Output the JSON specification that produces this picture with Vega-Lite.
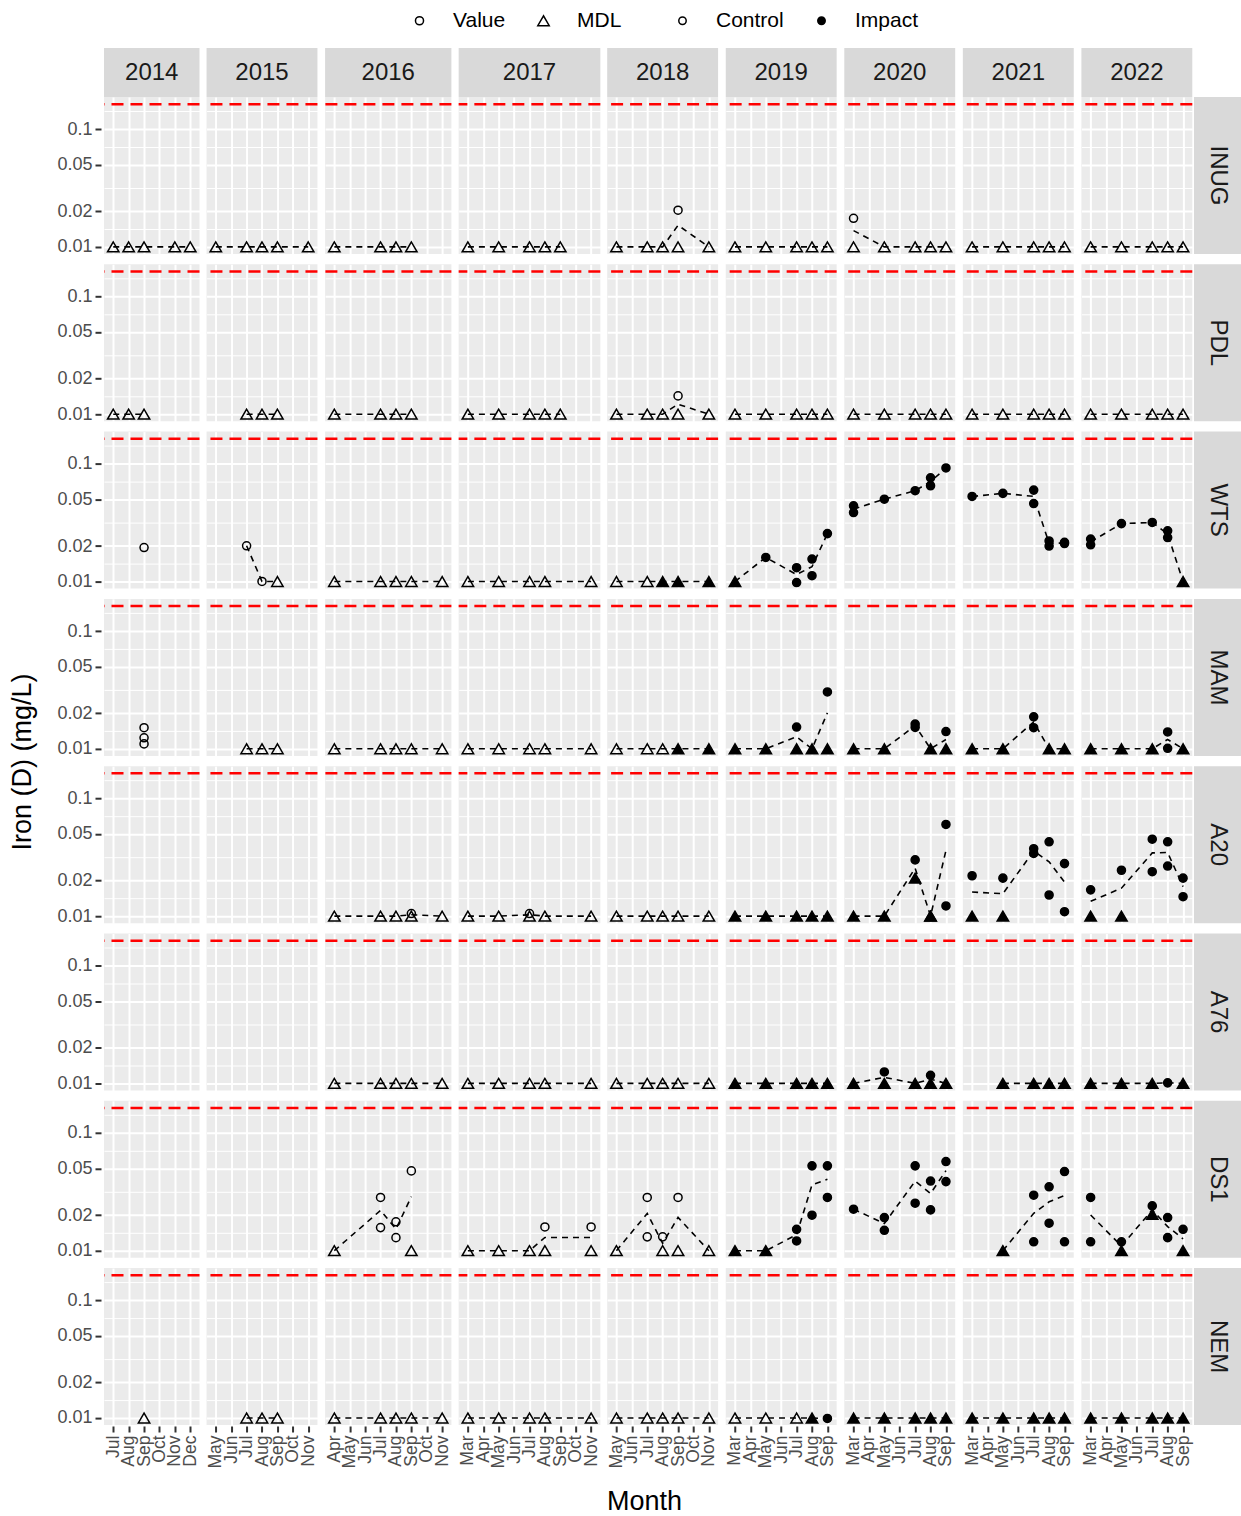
{
"$schema":"https://vega.github.io/schema/vega-lite/v6.json",
"padding":{"left":8,"top":10,"right":0,"bottom":0},
"config":{
 "font":"Liberation Sans",
 "view":{"fill":"#EBEBEB","stroke":null},
 "scale":{"pointPadding":0.6},
 "axis":{"domain":false,"grid":true,"gridColor":"#FFFFFF","gridWidth":2,"gridOpacity":1,"tickColor":"#333333","tickWidth":2,"tickSize":6,"labelColor":"#4D4D4D","labelPadding":3,"minExtent":0},
 "axisX":{"labelAngle":270,"labelFontSize":17.5,"labelOverlap":false},
 "axisLeft":{"labels":false,"ticks":false},
 "axisRight":{"labels":false,"ticks":false,"gridWidth":1},
 "legend":{"labelFontSize":21,"labelColor":"#000000","symbolStrokeColor":"#000000","symbolStrokeWidth":1.5,"symbolSize":55,"labelOffset":23,"columnPadding":27,"direction":"horizontal"},
 "point":{"filled":true,"stroke":"#000000","strokeWidth":1.5,"opacity":1},
 "line":{"color":"#000000","strokeDash":[6,5],"strokeWidth":1.6},
 "rule":{"color":"#FF0000","strokeDash":[12,7],"strokeWidth":2.5}
},
"datasets":{
"st":[{"s":"INUG"},{"s":"PDL"},{"s":"WTS"},{"s":"MAM"},{"s":"A20"},{"s":"A76"},{"s":"DS1"},{"s":"NEM"}],
"d":[
{"s":"INUG","yr":2014,"m":"Jul","v":0.01,"k":"MDL","g":"Control"},
{"s":"INUG","yr":2014,"m":"Aug","v":0.01,"k":"MDL","g":"Control"},
{"s":"INUG","yr":2014,"m":"Sep","v":0.01,"k":"MDL","g":"Control"},
{"s":"INUG","yr":2014,"m":"Nov","v":0.01,"k":"MDL","g":"Control"},
{"s":"INUG","yr":2014,"m":"Dec","v":0.01,"k":"MDL","g":"Control"},
{"s":"INUG","yr":2015,"m":"May","v":0.01,"k":"MDL","g":"Control"},
{"s":"INUG","yr":2015,"m":"Jul","v":0.01,"k":"MDL","g":"Control"},
{"s":"INUG","yr":2015,"m":"Aug","v":0.01,"k":"MDL","g":"Control"},
{"s":"INUG","yr":2015,"m":"Sep","v":0.01,"k":"MDL","g":"Control"},
{"s":"INUG","yr":2015,"m":"Nov","v":0.01,"k":"MDL","g":"Control"},
{"s":"INUG","yr":2016,"m":"Apr","v":0.01,"k":"MDL","g":"Control"},
{"s":"INUG","yr":2016,"m":"Jul","v":0.01,"k":"MDL","g":"Control"},
{"s":"INUG","yr":2016,"m":"Aug","v":0.01,"k":"MDL","g":"Control"},
{"s":"INUG","yr":2016,"m":"Sep","v":0.01,"k":"MDL","g":"Control"},
{"s":"INUG","yr":2017,"m":"Mar","v":0.01,"k":"MDL","g":"Control"},
{"s":"INUG","yr":2017,"m":"May","v":0.01,"k":"MDL","g":"Control"},
{"s":"INUG","yr":2017,"m":"Jul","v":0.01,"k":"MDL","g":"Control"},
{"s":"INUG","yr":2017,"m":"Aug","v":0.01,"k":"MDL","g":"Control"},
{"s":"INUG","yr":2017,"m":"Sep","v":0.01,"k":"MDL","g":"Control"},
{"s":"INUG","yr":2018,"m":"May","v":0.01,"k":"MDL","g":"Control"},
{"s":"INUG","yr":2018,"m":"Jul","v":0.01,"k":"MDL","g":"Control"},
{"s":"INUG","yr":2018,"m":"Aug","v":0.01,"k":"MDL","g":"Control"},
{"s":"INUG","yr":2018,"m":"Sep","v":0.01,"k":"MDL","g":"Control"},
{"s":"INUG","yr":2018,"m":"Sep","v":0.0205,"k":"Value","g":"Control"},
{"s":"INUG","yr":2018,"m":"Nov","v":0.01,"k":"MDL","g":"Control"},
{"s":"INUG","yr":2019,"m":"Mar","v":0.01,"k":"MDL","g":"Control"},
{"s":"INUG","yr":2019,"m":"May","v":0.01,"k":"MDL","g":"Control"},
{"s":"INUG","yr":2019,"m":"Jul","v":0.01,"k":"MDL","g":"Control"},
{"s":"INUG","yr":2019,"m":"Aug","v":0.01,"k":"MDL","g":"Control"},
{"s":"INUG","yr":2019,"m":"Sep","v":0.01,"k":"MDL","g":"Control"},
{"s":"INUG","yr":2020,"m":"Mar","v":0.01,"k":"MDL","g":"Control"},
{"s":"INUG","yr":2020,"m":"Mar","v":0.0175,"k":"Value","g":"Control"},
{"s":"INUG","yr":2020,"m":"May","v":0.01,"k":"MDL","g":"Control"},
{"s":"INUG","yr":2020,"m":"Jul","v":0.01,"k":"MDL","g":"Control"},
{"s":"INUG","yr":2020,"m":"Aug","v":0.01,"k":"MDL","g":"Control"},
{"s":"INUG","yr":2020,"m":"Sep","v":0.01,"k":"MDL","g":"Control"},
{"s":"INUG","yr":2021,"m":"Mar","v":0.01,"k":"MDL","g":"Control"},
{"s":"INUG","yr":2021,"m":"May","v":0.01,"k":"MDL","g":"Control"},
{"s":"INUG","yr":2021,"m":"Jul","v":0.01,"k":"MDL","g":"Control"},
{"s":"INUG","yr":2021,"m":"Aug","v":0.01,"k":"MDL","g":"Control"},
{"s":"INUG","yr":2021,"m":"Sep","v":0.01,"k":"MDL","g":"Control"},
{"s":"INUG","yr":2022,"m":"Mar","v":0.01,"k":"MDL","g":"Control"},
{"s":"INUG","yr":2022,"m":"May","v":0.01,"k":"MDL","g":"Control"},
{"s":"INUG","yr":2022,"m":"Jul","v":0.01,"k":"MDL","g":"Control"},
{"s":"INUG","yr":2022,"m":"Aug","v":0.01,"k":"MDL","g":"Control"},
{"s":"INUG","yr":2022,"m":"Sep","v":0.01,"k":"MDL","g":"Control"},
{"s":"PDL","yr":2014,"m":"Jul","v":0.01,"k":"MDL","g":"Control"},
{"s":"PDL","yr":2014,"m":"Aug","v":0.01,"k":"MDL","g":"Control"},
{"s":"PDL","yr":2014,"m":"Sep","v":0.01,"k":"MDL","g":"Control"},
{"s":"PDL","yr":2015,"m":"Jul","v":0.01,"k":"MDL","g":"Control"},
{"s":"PDL","yr":2015,"m":"Aug","v":0.01,"k":"MDL","g":"Control"},
{"s":"PDL","yr":2015,"m":"Sep","v":0.01,"k":"MDL","g":"Control"},
{"s":"PDL","yr":2016,"m":"Apr","v":0.01,"k":"MDL","g":"Control"},
{"s":"PDL","yr":2016,"m":"Jul","v":0.01,"k":"MDL","g":"Control"},
{"s":"PDL","yr":2016,"m":"Aug","v":0.01,"k":"MDL","g":"Control"},
{"s":"PDL","yr":2016,"m":"Sep","v":0.01,"k":"MDL","g":"Control"},
{"s":"PDL","yr":2017,"m":"Mar","v":0.01,"k":"MDL","g":"Control"},
{"s":"PDL","yr":2017,"m":"May","v":0.01,"k":"MDL","g":"Control"},
{"s":"PDL","yr":2017,"m":"Jul","v":0.01,"k":"MDL","g":"Control"},
{"s":"PDL","yr":2017,"m":"Aug","v":0.01,"k":"MDL","g":"Control"},
{"s":"PDL","yr":2017,"m":"Sep","v":0.01,"k":"MDL","g":"Control"},
{"s":"PDL","yr":2018,"m":"May","v":0.01,"k":"MDL","g":"Control"},
{"s":"PDL","yr":2018,"m":"Jul","v":0.01,"k":"MDL","g":"Control"},
{"s":"PDL","yr":2018,"m":"Aug","v":0.01,"k":"MDL","g":"Control"},
{"s":"PDL","yr":2018,"m":"Sep","v":0.01,"k":"MDL","g":"Control"},
{"s":"PDL","yr":2018,"m":"Sep","v":0.0143,"k":"Value","g":"Control"},
{"s":"PDL","yr":2018,"m":"Nov","v":0.01,"k":"MDL","g":"Control"},
{"s":"PDL","yr":2019,"m":"Mar","v":0.01,"k":"MDL","g":"Control"},
{"s":"PDL","yr":2019,"m":"May","v":0.01,"k":"MDL","g":"Control"},
{"s":"PDL","yr":2019,"m":"Jul","v":0.01,"k":"MDL","g":"Control"},
{"s":"PDL","yr":2019,"m":"Aug","v":0.01,"k":"MDL","g":"Control"},
{"s":"PDL","yr":2019,"m":"Sep","v":0.01,"k":"MDL","g":"Control"},
{"s":"PDL","yr":2020,"m":"Mar","v":0.01,"k":"MDL","g":"Control"},
{"s":"PDL","yr":2020,"m":"May","v":0.01,"k":"MDL","g":"Control"},
{"s":"PDL","yr":2020,"m":"Jul","v":0.01,"k":"MDL","g":"Control"},
{"s":"PDL","yr":2020,"m":"Aug","v":0.01,"k":"MDL","g":"Control"},
{"s":"PDL","yr":2020,"m":"Sep","v":0.01,"k":"MDL","g":"Control"},
{"s":"PDL","yr":2021,"m":"Mar","v":0.01,"k":"MDL","g":"Control"},
{"s":"PDL","yr":2021,"m":"May","v":0.01,"k":"MDL","g":"Control"},
{"s":"PDL","yr":2021,"m":"Jul","v":0.01,"k":"MDL","g":"Control"},
{"s":"PDL","yr":2021,"m":"Aug","v":0.01,"k":"MDL","g":"Control"},
{"s":"PDL","yr":2021,"m":"Sep","v":0.01,"k":"MDL","g":"Control"},
{"s":"PDL","yr":2022,"m":"Mar","v":0.01,"k":"MDL","g":"Control"},
{"s":"PDL","yr":2022,"m":"May","v":0.01,"k":"MDL","g":"Control"},
{"s":"PDL","yr":2022,"m":"Jul","v":0.01,"k":"MDL","g":"Control"},
{"s":"PDL","yr":2022,"m":"Aug","v":0.01,"k":"MDL","g":"Control"},
{"s":"PDL","yr":2022,"m":"Sep","v":0.01,"k":"MDL","g":"Control"},
{"s":"WTS","yr":2014,"m":"Sep","v":0.0194,"k":"Value","g":"Control"},
{"s":"WTS","yr":2015,"m":"Jul","v":0.0201,"k":"Value","g":"Control"},
{"s":"WTS","yr":2015,"m":"Aug","v":0.01,"k":"Value","g":"Control"},
{"s":"WTS","yr":2015,"m":"Sep","v":0.01,"k":"MDL","g":"Control"},
{"s":"WTS","yr":2016,"m":"Apr","v":0.01,"k":"MDL","g":"Control"},
{"s":"WTS","yr":2016,"m":"Jul","v":0.01,"k":"MDL","g":"Control"},
{"s":"WTS","yr":2016,"m":"Aug","v":0.01,"k":"MDL","g":"Control"},
{"s":"WTS","yr":2016,"m":"Sep","v":0.01,"k":"MDL","g":"Control"},
{"s":"WTS","yr":2016,"m":"Nov","v":0.01,"k":"MDL","g":"Control"},
{"s":"WTS","yr":2017,"m":"Mar","v":0.01,"k":"MDL","g":"Control"},
{"s":"WTS","yr":2017,"m":"May","v":0.01,"k":"MDL","g":"Control"},
{"s":"WTS","yr":2017,"m":"Jul","v":0.01,"k":"MDL","g":"Control"},
{"s":"WTS","yr":2017,"m":"Aug","v":0.01,"k":"MDL","g":"Control"},
{"s":"WTS","yr":2017,"m":"Nov","v":0.01,"k":"MDL","g":"Control"},
{"s":"WTS","yr":2018,"m":"May","v":0.01,"k":"MDL","g":"Control"},
{"s":"WTS","yr":2018,"m":"Jul","v":0.01,"k":"MDL","g":"Control"},
{"s":"WTS","yr":2018,"m":"Aug","v":0.01,"k":"MDL","g":"Impact"},
{"s":"WTS","yr":2018,"m":"Sep","v":0.01,"k":"MDL","g":"Impact"},
{"s":"WTS","yr":2018,"m":"Nov","v":0.01,"k":"MDL","g":"Impact"},
{"s":"WTS","yr":2019,"m":"Mar","v":0.01,"k":"MDL","g":"Impact"},
{"s":"WTS","yr":2019,"m":"May","v":0.016,"k":"Value","g":"Impact"},
{"s":"WTS","yr":2019,"m":"Jul","v":0.0131,"k":"Value","g":"Impact"},
{"s":"WTS","yr":2019,"m":"Jul","v":0.0098,"k":"Value","g":"Impact"},
{"s":"WTS","yr":2019,"m":"Aug","v":0.0155,"k":"Value","g":"Impact"},
{"s":"WTS","yr":2019,"m":"Aug","v":0.0112,"k":"Value","g":"Impact"},
{"s":"WTS","yr":2019,"m":"Sep","v":0.0255,"k":"Value","g":"Impact"},
{"s":"WTS","yr":2020,"m":"Mar","v":0.0439,"k":"Value","g":"Impact"},
{"s":"WTS","yr":2020,"m":"Mar","v":0.0385,"k":"Value","g":"Impact"},
{"s":"WTS","yr":2020,"m":"May","v":0.05,"k":"Value","g":"Impact"},
{"s":"WTS","yr":2020,"m":"Jul","v":0.059,"k":"Value","g":"Impact"},
{"s":"WTS","yr":2020,"m":"Aug","v":0.076,"k":"Value","g":"Impact"},
{"s":"WTS","yr":2020,"m":"Aug","v":0.065,"k":"Value","g":"Impact"},
{"s":"WTS","yr":2020,"m":"Sep","v":0.092,"k":"Value","g":"Impact"},
{"s":"WTS","yr":2021,"m":"Mar","v":0.0527,"k":"Value","g":"Impact"},
{"s":"WTS","yr":2021,"m":"May","v":0.056,"k":"Value","g":"Impact"},
{"s":"WTS","yr":2021,"m":"Jul","v":0.0597,"k":"Value","g":"Impact"},
{"s":"WTS","yr":2021,"m":"Jul","v":0.0459,"k":"Value","g":"Impact"},
{"s":"WTS","yr":2021,"m":"Aug","v":0.0221,"k":"Value","g":"Impact"},
{"s":"WTS","yr":2021,"m":"Aug","v":0.02,"k":"Value","g":"Impact"},
{"s":"WTS","yr":2021,"m":"Sep","v":0.0215,"k":"Value","g":"Impact"},
{"s":"WTS","yr":2021,"m":"Sep","v":0.021,"k":"Value","g":"Impact"},
{"s":"WTS","yr":2022,"m":"Mar","v":0.0229,"k":"Value","g":"Impact"},
{"s":"WTS","yr":2022,"m":"Mar","v":0.0205,"k":"Value","g":"Impact"},
{"s":"WTS","yr":2022,"m":"May","v":0.031,"k":"Value","g":"Impact"},
{"s":"WTS","yr":2022,"m":"Jul","v":0.0317,"k":"Value","g":"Impact"},
{"s":"WTS","yr":2022,"m":"Aug","v":0.0269,"k":"Value","g":"Impact"},
{"s":"WTS","yr":2022,"m":"Aug","v":0.0236,"k":"Value","g":"Impact"},
{"s":"WTS","yr":2022,"m":"Sep","v":0.01,"k":"MDL","g":"Impact"},
{"s":"MAM","yr":2014,"m":"Sep","v":0.0151,"k":"Value","g":"Control"},
{"s":"MAM","yr":2014,"m":"Sep","v":0.0124,"k":"Value","g":"Control"},
{"s":"MAM","yr":2014,"m":"Sep","v":0.011,"k":"Value","g":"Control"},
{"s":"MAM","yr":2015,"m":"Jul","v":0.01,"k":"MDL","g":"Control"},
{"s":"MAM","yr":2015,"m":"Aug","v":0.01,"k":"MDL","g":"Control"},
{"s":"MAM","yr":2015,"m":"Sep","v":0.01,"k":"MDL","g":"Control"},
{"s":"MAM","yr":2016,"m":"Apr","v":0.01,"k":"MDL","g":"Control"},
{"s":"MAM","yr":2016,"m":"Jul","v":0.01,"k":"MDL","g":"Control"},
{"s":"MAM","yr":2016,"m":"Aug","v":0.01,"k":"MDL","g":"Control"},
{"s":"MAM","yr":2016,"m":"Sep","v":0.01,"k":"MDL","g":"Control"},
{"s":"MAM","yr":2016,"m":"Nov","v":0.01,"k":"MDL","g":"Control"},
{"s":"MAM","yr":2017,"m":"Mar","v":0.01,"k":"MDL","g":"Control"},
{"s":"MAM","yr":2017,"m":"May","v":0.01,"k":"MDL","g":"Control"},
{"s":"MAM","yr":2017,"m":"Jul","v":0.01,"k":"MDL","g":"Control"},
{"s":"MAM","yr":2017,"m":"Aug","v":0.01,"k":"MDL","g":"Control"},
{"s":"MAM","yr":2017,"m":"Nov","v":0.01,"k":"MDL","g":"Control"},
{"s":"MAM","yr":2018,"m":"May","v":0.01,"k":"MDL","g":"Control"},
{"s":"MAM","yr":2018,"m":"Jul","v":0.01,"k":"MDL","g":"Control"},
{"s":"MAM","yr":2018,"m":"Aug","v":0.01,"k":"MDL","g":"Control"},
{"s":"MAM","yr":2018,"m":"Sep","v":0.01,"k":"MDL","g":"Impact"},
{"s":"MAM","yr":2018,"m":"Nov","v":0.01,"k":"MDL","g":"Impact"},
{"s":"MAM","yr":2019,"m":"Mar","v":0.01,"k":"MDL","g":"Impact"},
{"s":"MAM","yr":2019,"m":"May","v":0.01,"k":"MDL","g":"Impact"},
{"s":"MAM","yr":2019,"m":"Jul","v":0.01,"k":"MDL","g":"Impact"},
{"s":"MAM","yr":2019,"m":"Jul","v":0.0153,"k":"Value","g":"Impact"},
{"s":"MAM","yr":2019,"m":"Aug","v":0.01,"k":"MDL","g":"Impact"},
{"s":"MAM","yr":2019,"m":"Sep","v":0.01,"k":"MDL","g":"Impact"},
{"s":"MAM","yr":2019,"m":"Sep","v":0.0304,"k":"Value","g":"Impact"},
{"s":"MAM","yr":2020,"m":"Mar","v":0.01,"k":"MDL","g":"Impact"},
{"s":"MAM","yr":2020,"m":"May","v":0.01,"k":"MDL","g":"Impact"},
{"s":"MAM","yr":2020,"m":"Jul","v":0.0162,"k":"Value","g":"Impact"},
{"s":"MAM","yr":2020,"m":"Jul","v":0.0152,"k":"Value","g":"Impact"},
{"s":"MAM","yr":2020,"m":"Aug","v":0.01,"k":"MDL","g":"Impact"},
{"s":"MAM","yr":2020,"m":"Sep","v":0.01,"k":"MDL","g":"Impact"},
{"s":"MAM","yr":2020,"m":"Sep","v":0.014,"k":"Value","g":"Impact"},
{"s":"MAM","yr":2021,"m":"Mar","v":0.01,"k":"MDL","g":"Impact"},
{"s":"MAM","yr":2021,"m":"May","v":0.01,"k":"MDL","g":"Impact"},
{"s":"MAM","yr":2021,"m":"Jul","v":0.0187,"k":"Value","g":"Impact"},
{"s":"MAM","yr":2021,"m":"Jul","v":0.0151,"k":"Value","g":"Impact"},
{"s":"MAM","yr":2021,"m":"Aug","v":0.01,"k":"MDL","g":"Impact"},
{"s":"MAM","yr":2021,"m":"Sep","v":0.01,"k":"MDL","g":"Impact"},
{"s":"MAM","yr":2022,"m":"Mar","v":0.01,"k":"MDL","g":"Impact"},
{"s":"MAM","yr":2022,"m":"May","v":0.01,"k":"MDL","g":"Impact"},
{"s":"MAM","yr":2022,"m":"Jul","v":0.01,"k":"MDL","g":"Impact"},
{"s":"MAM","yr":2022,"m":"Aug","v":0.0139,"k":"Value","g":"Impact"},
{"s":"MAM","yr":2022,"m":"Aug","v":0.0101,"k":"Value","g":"Impact"},
{"s":"MAM","yr":2022,"m":"Sep","v":0.01,"k":"MDL","g":"Impact"},
{"s":"A20","yr":2014},
{"s":"A20","yr":2015},
{"s":"A20","yr":2016,"m":"Apr","v":0.01,"k":"MDL","g":"Control"},
{"s":"A20","yr":2016,"m":"Jul","v":0.01,"k":"MDL","g":"Control"},
{"s":"A20","yr":2016,"m":"Aug","v":0.01,"k":"MDL","g":"Control"},
{"s":"A20","yr":2016,"m":"Sep","v":0.01,"k":"MDL","g":"Control"},
{"s":"A20","yr":2016,"m":"Sep","v":0.0105,"k":"Value","g":"Control"},
{"s":"A20","yr":2016,"m":"Nov","v":0.01,"k":"MDL","g":"Control"},
{"s":"A20","yr":2017,"m":"Mar","v":0.01,"k":"MDL","g":"Control"},
{"s":"A20","yr":2017,"m":"May","v":0.01,"k":"MDL","g":"Control"},
{"s":"A20","yr":2017,"m":"Jul","v":0.01,"k":"MDL","g":"Control"},
{"s":"A20","yr":2017,"m":"Jul","v":0.0105,"k":"Value","g":"Control"},
{"s":"A20","yr":2017,"m":"Aug","v":0.01,"k":"MDL","g":"Control"},
{"s":"A20","yr":2017,"m":"Nov","v":0.01,"k":"MDL","g":"Control"},
{"s":"A20","yr":2018,"m":"May","v":0.01,"k":"MDL","g":"Control"},
{"s":"A20","yr":2018,"m":"Jul","v":0.01,"k":"MDL","g":"Control"},
{"s":"A20","yr":2018,"m":"Aug","v":0.01,"k":"MDL","g":"Control"},
{"s":"A20","yr":2018,"m":"Sep","v":0.01,"k":"MDL","g":"Control"},
{"s":"A20","yr":2018,"m":"Nov","v":0.01,"k":"MDL","g":"Control"},
{"s":"A20","yr":2019,"m":"Mar","v":0.01,"k":"MDL","g":"Impact"},
{"s":"A20","yr":2019,"m":"May","v":0.01,"k":"MDL","g":"Impact"},
{"s":"A20","yr":2019,"m":"Jul","v":0.01,"k":"MDL","g":"Impact"},
{"s":"A20","yr":2019,"m":"Aug","v":0.01,"k":"MDL","g":"Impact"},
{"s":"A20","yr":2019,"m":"Sep","v":0.01,"k":"MDL","g":"Impact"},
{"s":"A20","yr":2020,"m":"Mar","v":0.01,"k":"MDL","g":"Impact"},
{"s":"A20","yr":2020,"m":"May","v":0.01,"k":"MDL","g":"Impact"},
{"s":"A20","yr":2020,"m":"Jul","v":0.03,"k":"Value","g":"Impact"},
{"s":"A20","yr":2020,"m":"Jul","v":0.021,"k":"MDL","g":"Impact"},
{"s":"A20","yr":2020,"m":"Aug","v":0.01,"k":"MDL","g":"Impact"},
{"s":"A20","yr":2020,"m":"Aug","v":0.01,"k":"MDL","g":"Impact"},
{"s":"A20","yr":2020,"m":"Sep","v":0.06,"k":"Value","g":"Impact"},
{"s":"A20","yr":2020,"m":"Sep","v":0.0122,"k":"Value","g":"Impact"},
{"s":"A20","yr":2021,"m":"Mar","v":0.022,"k":"Value","g":"Impact"},
{"s":"A20","yr":2021,"m":"Mar","v":0.01,"k":"MDL","g":"Impact"},
{"s":"A20","yr":2021,"m":"May","v":0.021,"k":"Value","g":"Impact"},
{"s":"A20","yr":2021,"m":"May","v":0.01,"k":"MDL","g":"Impact"},
{"s":"A20","yr":2021,"m":"Jul","v":0.0373,"k":"Value","g":"Impact"},
{"s":"A20","yr":2021,"m":"Jul","v":0.034,"k":"Value","g":"Impact"},
{"s":"A20","yr":2021,"m":"Aug","v":0.0427,"k":"Value","g":"Impact"},
{"s":"A20","yr":2021,"m":"Aug","v":0.0151,"k":"Value","g":"Impact"},
{"s":"A20","yr":2021,"m":"Sep","v":0.0279,"k":"Value","g":"Impact"},
{"s":"A20","yr":2021,"m":"Sep","v":0.0109,"k":"Value","g":"Impact"},
{"s":"A20","yr":2022,"m":"Mar","v":0.0167,"k":"Value","g":"Impact"},
{"s":"A20","yr":2022,"m":"Mar","v":0.01,"k":"MDL","g":"Impact"},
{"s":"A20","yr":2022,"m":"May","v":0.0245,"k":"Value","g":"Impact"},
{"s":"A20","yr":2022,"m":"May","v":0.01,"k":"MDL","g":"Impact"},
{"s":"A20","yr":2022,"m":"Jul","v":0.045,"k":"Value","g":"Impact"},
{"s":"A20","yr":2022,"m":"Jul","v":0.0238,"k":"Value","g":"Impact"},
{"s":"A20","yr":2022,"m":"Aug","v":0.0427,"k":"Value","g":"Impact"},
{"s":"A20","yr":2022,"m":"Aug","v":0.0266,"k":"Value","g":"Impact"},
{"s":"A20","yr":2022,"m":"Sep","v":0.021,"k":"Value","g":"Impact"},
{"s":"A20","yr":2022,"m":"Sep","v":0.0146,"k":"Value","g":"Impact"},
{"s":"A76","yr":2014},
{"s":"A76","yr":2015},
{"s":"A76","yr":2016,"m":"Apr","v":0.01,"k":"MDL","g":"Control"},
{"s":"A76","yr":2016,"m":"Jul","v":0.01,"k":"MDL","g":"Control"},
{"s":"A76","yr":2016,"m":"Aug","v":0.01,"k":"MDL","g":"Control"},
{"s":"A76","yr":2016,"m":"Sep","v":0.01,"k":"MDL","g":"Control"},
{"s":"A76","yr":2016,"m":"Nov","v":0.01,"k":"MDL","g":"Control"},
{"s":"A76","yr":2017,"m":"Mar","v":0.01,"k":"MDL","g":"Control"},
{"s":"A76","yr":2017,"m":"May","v":0.01,"k":"MDL","g":"Control"},
{"s":"A76","yr":2017,"m":"Jul","v":0.01,"k":"MDL","g":"Control"},
{"s":"A76","yr":2017,"m":"Aug","v":0.01,"k":"MDL","g":"Control"},
{"s":"A76","yr":2017,"m":"Nov","v":0.01,"k":"MDL","g":"Control"},
{"s":"A76","yr":2018,"m":"May","v":0.01,"k":"MDL","g":"Control"},
{"s":"A76","yr":2018,"m":"Jul","v":0.01,"k":"MDL","g":"Control"},
{"s":"A76","yr":2018,"m":"Aug","v":0.01,"k":"MDL","g":"Control"},
{"s":"A76","yr":2018,"m":"Sep","v":0.01,"k":"MDL","g":"Control"},
{"s":"A76","yr":2018,"m":"Nov","v":0.01,"k":"MDL","g":"Control"},
{"s":"A76","yr":2019,"m":"Mar","v":0.01,"k":"MDL","g":"Impact"},
{"s":"A76","yr":2019,"m":"May","v":0.01,"k":"MDL","g":"Impact"},
{"s":"A76","yr":2019,"m":"Jul","v":0.01,"k":"MDL","g":"Impact"},
{"s":"A76","yr":2019,"m":"Aug","v":0.01,"k":"MDL","g":"Impact"},
{"s":"A76","yr":2019,"m":"Sep","v":0.01,"k":"MDL","g":"Impact"},
{"s":"A76","yr":2020,"m":"Mar","v":0.01,"k":"MDL","g":"Impact"},
{"s":"A76","yr":2020,"m":"May","v":0.01,"k":"MDL","g":"Impact"},
{"s":"A76","yr":2020,"m":"May","v":0.0125,"k":"Value","g":"Impact"},
{"s":"A76","yr":2020,"m":"Jul","v":0.01,"k":"MDL","g":"Impact"},
{"s":"A76","yr":2020,"m":"Aug","v":0.01,"k":"MDL","g":"Impact"},
{"s":"A76","yr":2020,"m":"Aug","v":0.0117,"k":"Value","g":"Impact"},
{"s":"A76","yr":2020,"m":"Sep","v":0.01,"k":"MDL","g":"Impact"},
{"s":"A76","yr":2021,"m":"May","v":0.01,"k":"MDL","g":"Impact"},
{"s":"A76","yr":2021,"m":"Jul","v":0.01,"k":"MDL","g":"Impact"},
{"s":"A76","yr":2021,"m":"Aug","v":0.01,"k":"MDL","g":"Impact"},
{"s":"A76","yr":2021,"m":"Sep","v":0.01,"k":"MDL","g":"Impact"},
{"s":"A76","yr":2022,"m":"Mar","v":0.01,"k":"MDL","g":"Impact"},
{"s":"A76","yr":2022,"m":"May","v":0.01,"k":"MDL","g":"Impact"},
{"s":"A76","yr":2022,"m":"Jul","v":0.01,"k":"MDL","g":"Impact"},
{"s":"A76","yr":2022,"m":"Aug","v":0.0101,"k":"Value","g":"Impact"},
{"s":"A76","yr":2022,"m":"Sep","v":0.01,"k":"MDL","g":"Impact"},
{"s":"DS1","yr":2014},
{"s":"DS1","yr":2015},
{"s":"DS1","yr":2016,"m":"Apr","v":0.01,"k":"MDL","g":"Control"},
{"s":"DS1","yr":2016,"m":"Jul","v":0.0283,"k":"Value","g":"Control"},
{"s":"DS1","yr":2016,"m":"Jul","v":0.0157,"k":"Value","g":"Control"},
{"s":"DS1","yr":2016,"m":"Aug","v":0.0176,"k":"Value","g":"Control"},
{"s":"DS1","yr":2016,"m":"Aug","v":0.0129,"k":"Value","g":"Control"},
{"s":"DS1","yr":2016,"m":"Sep","v":0.0476,"k":"Value","g":"Control"},
{"s":"DS1","yr":2016,"m":"Sep","v":0.01,"k":"MDL","g":"Control"},
{"s":"DS1","yr":2017,"m":"Mar","v":0.01,"k":"MDL","g":"Control"},
{"s":"DS1","yr":2017,"m":"May","v":0.01,"k":"MDL","g":"Control"},
{"s":"DS1","yr":2017,"m":"Jul","v":0.01,"k":"MDL","g":"Control"},
{"s":"DS1","yr":2017,"m":"Aug","v":0.01,"k":"MDL","g":"Control"},
{"s":"DS1","yr":2017,"m":"Aug","v":0.0159,"k":"Value","g":"Control"},
{"s":"DS1","yr":2017,"m":"Nov","v":0.0159,"k":"Value","g":"Control"},
{"s":"DS1","yr":2017,"m":"Nov","v":0.01,"k":"MDL","g":"Control"},
{"s":"DS1","yr":2018,"m":"May","v":0.01,"k":"MDL","g":"Control"},
{"s":"DS1","yr":2018,"m":"Jul","v":0.0283,"k":"Value","g":"Control"},
{"s":"DS1","yr":2018,"m":"Jul","v":0.0131,"k":"Value","g":"Control"},
{"s":"DS1","yr":2018,"m":"Aug","v":0.0131,"k":"Value","g":"Control"},
{"s":"DS1","yr":2018,"m":"Aug","v":0.01,"k":"MDL","g":"Control"},
{"s":"DS1","yr":2018,"m":"Sep","v":0.0283,"k":"Value","g":"Control"},
{"s":"DS1","yr":2018,"m":"Sep","v":0.01,"k":"MDL","g":"Control"},
{"s":"DS1","yr":2018,"m":"Nov","v":0.01,"k":"MDL","g":"Control"},
{"s":"DS1","yr":2019,"m":"Mar","v":0.01,"k":"MDL","g":"Impact"},
{"s":"DS1","yr":2019,"m":"May","v":0.01,"k":"MDL","g":"Impact"},
{"s":"DS1","yr":2019,"m":"Jul","v":0.0121,"k":"Value","g":"Impact"},
{"s":"DS1","yr":2019,"m":"Jul","v":0.0152,"k":"Value","g":"Impact"},
{"s":"DS1","yr":2019,"m":"Aug","v":0.02,"k":"Value","g":"Impact"},
{"s":"DS1","yr":2019,"m":"Aug","v":0.0525,"k":"Value","g":"Impact"},
{"s":"DS1","yr":2019,"m":"Sep","v":0.0525,"k":"Value","g":"Impact"},
{"s":"DS1","yr":2019,"m":"Sep","v":0.0283,"k":"Value","g":"Impact"},
{"s":"DS1","yr":2020,"m":"Mar","v":0.0225,"k":"Value","g":"Impact"},
{"s":"DS1","yr":2020,"m":"May","v":0.0191,"k":"Value","g":"Impact"},
{"s":"DS1","yr":2020,"m":"May","v":0.0149,"k":"Value","g":"Impact"},
{"s":"DS1","yr":2020,"m":"Jul","v":0.0525,"k":"Value","g":"Impact"},
{"s":"DS1","yr":2020,"m":"Jul","v":0.0253,"k":"Value","g":"Impact"},
{"s":"DS1","yr":2020,"m":"Aug","v":0.039,"k":"Value","g":"Impact"},
{"s":"DS1","yr":2020,"m":"Aug","v":0.0222,"k":"Value","g":"Impact"},
{"s":"DS1","yr":2020,"m":"Sep","v":0.0571,"k":"Value","g":"Impact"},
{"s":"DS1","yr":2020,"m":"Sep","v":0.0386,"k":"Value","g":"Impact"},
{"s":"DS1","yr":2021,"m":"May","v":0.01,"k":"MDL","g":"Impact"},
{"s":"DS1","yr":2021,"m":"Jul","v":0.0296,"k":"Value","g":"Impact"},
{"s":"DS1","yr":2021,"m":"Jul","v":0.0119,"k":"Value","g":"Impact"},
{"s":"DS1","yr":2021,"m":"Aug","v":0.0349,"k":"Value","g":"Impact"},
{"s":"DS1","yr":2021,"m":"Aug","v":0.0171,"k":"Value","g":"Impact"},
{"s":"DS1","yr":2021,"m":"Sep","v":0.047,"k":"Value","g":"Impact"},
{"s":"DS1","yr":2021,"m":"Sep","v":0.0119,"k":"Value","g":"Impact"},
{"s":"DS1","yr":2022,"m":"Mar","v":0.0283,"k":"Value","g":"Impact"},
{"s":"DS1","yr":2022,"m":"Mar","v":0.0119,"k":"Value","g":"Impact"},
{"s":"DS1","yr":2022,"m":"May","v":0.0119,"k":"Value","g":"Impact"},
{"s":"DS1","yr":2022,"m":"May","v":0.01,"k":"MDL","g":"Impact"},
{"s":"DS1","yr":2022,"m":"Jul","v":0.024,"k":"Value","g":"Impact"},
{"s":"DS1","yr":2022,"m":"Jul","v":0.0204,"k":"MDL","g":"Impact"},
{"s":"DS1","yr":2022,"m":"Aug","v":0.0191,"k":"Value","g":"Impact"},
{"s":"DS1","yr":2022,"m":"Aug","v":0.0129,"k":"Value","g":"Impact"},
{"s":"DS1","yr":2022,"m":"Sep","v":0.0152,"k":"Value","g":"Impact"},
{"s":"DS1","yr":2022,"m":"Sep","v":0.01,"k":"MDL","g":"Impact"},
{"s":"NEM","yr":2014,"m":"Sep","v":0.01,"k":"MDL","g":"Control"},
{"s":"NEM","yr":2015,"m":"Jul","v":0.01,"k":"MDL","g":"Control"},
{"s":"NEM","yr":2015,"m":"Aug","v":0.01,"k":"MDL","g":"Control"},
{"s":"NEM","yr":2015,"m":"Sep","v":0.01,"k":"MDL","g":"Control"},
{"s":"NEM","yr":2016,"m":"Apr","v":0.01,"k":"MDL","g":"Control"},
{"s":"NEM","yr":2016,"m":"Jul","v":0.01,"k":"MDL","g":"Control"},
{"s":"NEM","yr":2016,"m":"Aug","v":0.01,"k":"MDL","g":"Control"},
{"s":"NEM","yr":2016,"m":"Sep","v":0.01,"k":"MDL","g":"Control"},
{"s":"NEM","yr":2016,"m":"Nov","v":0.01,"k":"MDL","g":"Control"},
{"s":"NEM","yr":2017,"m":"Mar","v":0.01,"k":"MDL","g":"Control"},
{"s":"NEM","yr":2017,"m":"May","v":0.01,"k":"MDL","g":"Control"},
{"s":"NEM","yr":2017,"m":"Jul","v":0.01,"k":"MDL","g":"Control"},
{"s":"NEM","yr":2017,"m":"Aug","v":0.01,"k":"MDL","g":"Control"},
{"s":"NEM","yr":2017,"m":"Nov","v":0.01,"k":"MDL","g":"Control"},
{"s":"NEM","yr":2018,"m":"May","v":0.01,"k":"MDL","g":"Control"},
{"s":"NEM","yr":2018,"m":"Jul","v":0.01,"k":"MDL","g":"Control"},
{"s":"NEM","yr":2018,"m":"Aug","v":0.01,"k":"MDL","g":"Control"},
{"s":"NEM","yr":2018,"m":"Sep","v":0.01,"k":"MDL","g":"Control"},
{"s":"NEM","yr":2018,"m":"Nov","v":0.01,"k":"MDL","g":"Control"},
{"s":"NEM","yr":2019,"m":"Mar","v":0.01,"k":"MDL","g":"Control"},
{"s":"NEM","yr":2019,"m":"May","v":0.01,"k":"MDL","g":"Control"},
{"s":"NEM","yr":2019,"m":"Jul","v":0.01,"k":"MDL","g":"Control"},
{"s":"NEM","yr":2019,"m":"Aug","v":0.01,"k":"MDL","g":"Impact"},
{"s":"NEM","yr":2019,"m":"Sep","v":0.0099,"k":"Value","g":"Impact"},
{"s":"NEM","yr":2020,"m":"Mar","v":0.01,"k":"MDL","g":"Impact"},
{"s":"NEM","yr":2020,"m":"May","v":0.01,"k":"MDL","g":"Impact"},
{"s":"NEM","yr":2020,"m":"Jul","v":0.01,"k":"MDL","g":"Impact"},
{"s":"NEM","yr":2020,"m":"Aug","v":0.01,"k":"MDL","g":"Impact"},
{"s":"NEM","yr":2020,"m":"Sep","v":0.01,"k":"MDL","g":"Impact"},
{"s":"NEM","yr":2021,"m":"Mar","v":0.01,"k":"MDL","g":"Impact"},
{"s":"NEM","yr":2021,"m":"May","v":0.01,"k":"MDL","g":"Impact"},
{"s":"NEM","yr":2021,"m":"Jul","v":0.01,"k":"MDL","g":"Impact"},
{"s":"NEM","yr":2021,"m":"Aug","v":0.01,"k":"MDL","g":"Impact"},
{"s":"NEM","yr":2021,"m":"Sep","v":0.01,"k":"MDL","g":"Impact"},
{"s":"NEM","yr":2022,"m":"Mar","v":0.01,"k":"MDL","g":"Impact"},
{"s":"NEM","yr":2022,"m":"May","v":0.01,"k":"MDL","g":"Impact"},
{"s":"NEM","yr":2022,"m":"Jul","v":0.01,"k":"MDL","g":"Impact"},
{"s":"NEM","yr":2022,"m":"Aug","v":0.01,"k":"MDL","g":"Impact"},
{"s":"NEM","yr":2022,"m":"Sep","v":0.01,"k":"MDL","g":"Impact"}
]},
"title":{"text":"Month","orient":"bottom","anchor":"middle","fontSize":27,"fontWeight":"normal","color":"#000000","offset":21,"dx":19},
"spacing":0,
"hconcat":[
{"spacing":0,"vconcat":[
 {"width":1,"height":49,"view":{"fill":"#FFFFFF","stroke":null},"data":{"values":[{"t":""}]},"mark":{"type":"text"},"encoding":{"text":{"field":"t","type":"nominal"}}},
 {"data":{"name":"d"},"facet":{"row":{"field":"s","sort":["INUG","PDL","WTS","MAM","A20","A76","DS1","NEM"],"header":{"title":"Iron (D) (mg/L)","labels":false,"titleFontSize":27,"titleFontWeight":"normal","titleColor":"#000000","titlePadding":54}}},"spacing":10.3,"bounds":"flush","resolve":{"axis":{"y":"independent"}},
  "spec":{"width":1,"height":157,"view":{"fill":"#FFFFFF","stroke":null},"mark":{"type":"rule","opacity":0},"encoding":{"y":{"datum":0.163,"type":"quantitative","scale":{"type":"log","domain":[0.0087,0.1874],"nice":false},"axis":{"title":null,"values":[0.01,0.02,0.05,0.1],"labels":true,"ticks":true,"grid":false,"format":"~g","labelFontSize":18,"labelColor":"#4D4D4D"}}}}}
]},
{"spacing":3.55,"hconcat":[
{"spacing":0,"vconcat":[
 {"width":95.5,"height":49,"view":{"fill":"#D9D9D9","stroke":null},"data":{"values":[{"t":"2014"}]},"mark":{"type":"text","fontSize":24,"color":"#1A1A1A"},"encoding":{"text":{"field":"t","type":"nominal"}}},
 {"data":{"name":"d"},"transform":[{"filter":"datum.yr==2014"}],"facet":{"row":{"field":"s","sort":["INUG","PDL","WTS","MAM","A20","A76","DS1","NEM"],"header":null}},"spacing":10.3,"bounds":"flush","resolve":{"axis":{"y":"independent"}},
  "spec":{"width":95.5,"height":157,"resolve":{"axis":{"y":"independent"}},"layer":[
   {"transform":[{"window":[{"op":"row_number","as":"rn"}],"groupby":["s"]},{"filter":"datum.rn==1"}],"mark":{"type":"rule"},"encoding":{"y":{"datum":0.163,"type":"quantitative","scale":{"type":"log","domain":[0.0087,0.1874],"nice":false},"axis":{"title":null,"orient":"right","values":[0.01414,0.03162,0.07071,0.14142],"grid":true}}}},
   {"transform":[{"filter":"isValid(datum.v)"}],"mark":{"type":"line"},"encoding":{"x":{"field":"m","type":"ordinal","sort":["Jul","Aug","Sep","Oct","Nov","Dec"],"scale":{"domain":["Jul","Aug","Sep","Oct","Nov","Dec"]},"axis":{"title":null,"grid":true}},"y":{"aggregate":"mean","field":"v","type":"quantitative","scale":{"type":"log","domain":[0.0087,0.1874],"nice":false},"axis":{"title":null,"orient":"left","values":[0.01,0.02,0.05,0.1],"grid":true}}}},
   {"transform":[{"filter":"isValid(datum.v)"}],"mark":{"type":"point"},"encoding":{"x":{"field":"m","type":"ordinal","sort":["Jul","Aug","Sep","Oct","Nov","Dec"],"scale":{"domain":["Jul","Aug","Sep","Oct","Nov","Dec"]},"axis":{"title":null,"grid":true}},"y":{"field":"v","type":"quantitative","scale":{"type":"log","domain":[0.0087,0.1874],"nice":false},"axis":null},
     "shape":{"field":"k","type":"nominal","scale":{"domain":["Value","MDL"],"range":["circle","triangle-up"]},"legend":{"title":null,"orient":"none","legendX":308,"legendY":-38,"direction":"horizontal","symbolFillColor":"transparent"}},
     "fill":{"field":"g","type":"nominal","scale":{"domain":["Control","Impact"],"range":["transparent","#000000"]},"legend":{"title":null,"orient":"none","legendX":571,"legendY":-38,"direction":"horizontal"}},
     "size":{"field":"k","type":"nominal","scale":{"domain":["Value","MDL"],"range":[65,130]},"legend":{"title":null,"orient":"none","legendX":308,"legendY":-38,"direction":"horizontal","symbolFillColor":"transparent"}}}}
  ]}}
]},
{"spacing":0,"vconcat":[
 {"width":110.9,"height":49,"view":{"fill":"#D9D9D9","stroke":null},"data":{"values":[{"t":"2015"}]},"mark":{"type":"text","fontSize":24,"color":"#1A1A1A"},"encoding":{"text":{"field":"t","type":"nominal"}}},
 {"data":{"name":"d"},"transform":[{"filter":"datum.yr==2015"}],"facet":{"row":{"field":"s","sort":["INUG","PDL","WTS","MAM","A20","A76","DS1","NEM"],"header":null}},"spacing":10.3,"bounds":"flush","resolve":{"axis":{"y":"independent"}},
  "spec":{"width":110.9,"height":157,"resolve":{"axis":{"y":"independent"}},"layer":[
   {"transform":[{"window":[{"op":"row_number","as":"rn"}],"groupby":["s"]},{"filter":"datum.rn==1"}],"mark":{"type":"rule"},"encoding":{"y":{"datum":0.163,"type":"quantitative","scale":{"type":"log","domain":[0.0087,0.1874],"nice":false},"axis":{"title":null,"orient":"right","values":[0.01414,0.03162,0.07071,0.14142],"grid":true}}}},
   {"transform":[{"filter":"isValid(datum.v)"}],"mark":{"type":"line"},"encoding":{"x":{"field":"m","type":"ordinal","sort":["May","Jun","Jul","Aug","Sep","Oct","Nov"],"scale":{"domain":["May","Jun","Jul","Aug","Sep","Oct","Nov"]},"axis":{"title":null,"grid":true}},"y":{"aggregate":"mean","field":"v","type":"quantitative","scale":{"type":"log","domain":[0.0087,0.1874],"nice":false},"axis":{"title":null,"orient":"left","values":[0.01,0.02,0.05,0.1],"grid":true}}}},
   {"transform":[{"filter":"isValid(datum.v)"}],"mark":{"type":"point"},"encoding":{"x":{"field":"m","type":"ordinal","sort":["May","Jun","Jul","Aug","Sep","Oct","Nov"],"scale":{"domain":["May","Jun","Jul","Aug","Sep","Oct","Nov"]},"axis":{"title":null,"grid":true}},"y":{"field":"v","type":"quantitative","scale":{"type":"log","domain":[0.0087,0.1874],"nice":false},"axis":null},
     "shape":{"field":"k","type":"nominal","scale":{"domain":["Value","MDL"],"range":["circle","triangle-up"]},"legend":{"title":null,"orient":"none","legendX":308,"legendY":-38,"direction":"horizontal","symbolFillColor":"transparent"}},
     "fill":{"field":"g","type":"nominal","scale":{"domain":["Control","Impact"],"range":["transparent","#000000"]},"legend":{"title":null,"orient":"none","legendX":571,"legendY":-38,"direction":"horizontal"}},
     "size":{"field":"k","type":"nominal","scale":{"domain":["Value","MDL"],"range":[65,130]},"legend":{"title":null,"orient":"none","legendX":308,"legendY":-38,"direction":"horizontal","symbolFillColor":"transparent"}}}}
  ]}}
]},
{"spacing":0,"vconcat":[
 {"width":126.3,"height":49,"view":{"fill":"#D9D9D9","stroke":null},"data":{"values":[{"t":"2016"}]},"mark":{"type":"text","fontSize":24,"color":"#1A1A1A"},"encoding":{"text":{"field":"t","type":"nominal"}}},
 {"data":{"name":"d"},"transform":[{"filter":"datum.yr==2016"}],"facet":{"row":{"field":"s","sort":["INUG","PDL","WTS","MAM","A20","A76","DS1","NEM"],"header":null}},"spacing":10.3,"bounds":"flush","resolve":{"axis":{"y":"independent"}},
  "spec":{"width":126.3,"height":157,"resolve":{"axis":{"y":"independent"}},"layer":[
   {"transform":[{"window":[{"op":"row_number","as":"rn"}],"groupby":["s"]},{"filter":"datum.rn==1"}],"mark":{"type":"rule"},"encoding":{"y":{"datum":0.163,"type":"quantitative","scale":{"type":"log","domain":[0.0087,0.1874],"nice":false},"axis":{"title":null,"orient":"right","values":[0.01414,0.03162,0.07071,0.14142],"grid":true}}}},
   {"transform":[{"filter":"isValid(datum.v)"}],"mark":{"type":"line"},"encoding":{"x":{"field":"m","type":"ordinal","sort":["Apr","May","Jun","Jul","Aug","Sep","Oct","Nov"],"scale":{"domain":["Apr","May","Jun","Jul","Aug","Sep","Oct","Nov"]},"axis":{"title":null,"grid":true}},"y":{"aggregate":"mean","field":"v","type":"quantitative","scale":{"type":"log","domain":[0.0087,0.1874],"nice":false},"axis":{"title":null,"orient":"left","values":[0.01,0.02,0.05,0.1],"grid":true}}}},
   {"transform":[{"filter":"isValid(datum.v)"}],"mark":{"type":"point"},"encoding":{"x":{"field":"m","type":"ordinal","sort":["Apr","May","Jun","Jul","Aug","Sep","Oct","Nov"],"scale":{"domain":["Apr","May","Jun","Jul","Aug","Sep","Oct","Nov"]},"axis":{"title":null,"grid":true}},"y":{"field":"v","type":"quantitative","scale":{"type":"log","domain":[0.0087,0.1874],"nice":false},"axis":null},
     "shape":{"field":"k","type":"nominal","scale":{"domain":["Value","MDL"],"range":["circle","triangle-up"]},"legend":{"title":null,"orient":"none","legendX":308,"legendY":-38,"direction":"horizontal","symbolFillColor":"transparent"}},
     "fill":{"field":"g","type":"nominal","scale":{"domain":["Control","Impact"],"range":["transparent","#000000"]},"legend":{"title":null,"orient":"none","legendX":571,"legendY":-38,"direction":"horizontal"}},
     "size":{"field":"k","type":"nominal","scale":{"domain":["Value","MDL"],"range":[65,130]},"legend":{"title":null,"orient":"none","legendX":308,"legendY":-38,"direction":"horizontal","symbolFillColor":"transparent"}}}}
  ]}}
]},
{"spacing":0,"vconcat":[
 {"width":141.7,"height":49,"view":{"fill":"#D9D9D9","stroke":null},"data":{"values":[{"t":"2017"}]},"mark":{"type":"text","fontSize":24,"color":"#1A1A1A"},"encoding":{"text":{"field":"t","type":"nominal"}}},
 {"data":{"name":"d"},"transform":[{"filter":"datum.yr==2017"}],"facet":{"row":{"field":"s","sort":["INUG","PDL","WTS","MAM","A20","A76","DS1","NEM"],"header":null}},"spacing":10.3,"bounds":"flush","resolve":{"axis":{"y":"independent"}},
  "spec":{"width":141.7,"height":157,"resolve":{"axis":{"y":"independent"}},"layer":[
   {"transform":[{"window":[{"op":"row_number","as":"rn"}],"groupby":["s"]},{"filter":"datum.rn==1"}],"mark":{"type":"rule"},"encoding":{"y":{"datum":0.163,"type":"quantitative","scale":{"type":"log","domain":[0.0087,0.1874],"nice":false},"axis":{"title":null,"orient":"right","values":[0.01414,0.03162,0.07071,0.14142],"grid":true}}}},
   {"transform":[{"filter":"isValid(datum.v)"}],"mark":{"type":"line"},"encoding":{"x":{"field":"m","type":"ordinal","sort":["Mar","Apr","May","Jun","Jul","Aug","Sep","Oct","Nov"],"scale":{"domain":["Mar","Apr","May","Jun","Jul","Aug","Sep","Oct","Nov"]},"axis":{"title":null,"grid":true}},"y":{"aggregate":"mean","field":"v","type":"quantitative","scale":{"type":"log","domain":[0.0087,0.1874],"nice":false},"axis":{"title":null,"orient":"left","values":[0.01,0.02,0.05,0.1],"grid":true}}}},
   {"transform":[{"filter":"isValid(datum.v)"}],"mark":{"type":"point"},"encoding":{"x":{"field":"m","type":"ordinal","sort":["Mar","Apr","May","Jun","Jul","Aug","Sep","Oct","Nov"],"scale":{"domain":["Mar","Apr","May","Jun","Jul","Aug","Sep","Oct","Nov"]},"axis":{"title":null,"grid":true}},"y":{"field":"v","type":"quantitative","scale":{"type":"log","domain":[0.0087,0.1874],"nice":false},"axis":null},
     "shape":{"field":"k","type":"nominal","scale":{"domain":["Value","MDL"],"range":["circle","triangle-up"]},"legend":{"title":null,"orient":"none","legendX":308,"legendY":-38,"direction":"horizontal","symbolFillColor":"transparent"}},
     "fill":{"field":"g","type":"nominal","scale":{"domain":["Control","Impact"],"range":["transparent","#000000"]},"legend":{"title":null,"orient":"none","legendX":571,"legendY":-38,"direction":"horizontal"}},
     "size":{"field":"k","type":"nominal","scale":{"domain":["Value","MDL"],"range":[65,130]},"legend":{"title":null,"orient":"none","legendX":308,"legendY":-38,"direction":"horizontal","symbolFillColor":"transparent"}}}}
  ]}}
]},
{"spacing":0,"vconcat":[
 {"width":110.9,"height":49,"view":{"fill":"#D9D9D9","stroke":null},"data":{"values":[{"t":"2018"}]},"mark":{"type":"text","fontSize":24,"color":"#1A1A1A"},"encoding":{"text":{"field":"t","type":"nominal"}}},
 {"data":{"name":"d"},"transform":[{"filter":"datum.yr==2018"}],"facet":{"row":{"field":"s","sort":["INUG","PDL","WTS","MAM","A20","A76","DS1","NEM"],"header":null}},"spacing":10.3,"bounds":"flush","resolve":{"axis":{"y":"independent"}},
  "spec":{"width":110.9,"height":157,"resolve":{"axis":{"y":"independent"}},"layer":[
   {"transform":[{"window":[{"op":"row_number","as":"rn"}],"groupby":["s"]},{"filter":"datum.rn==1"}],"mark":{"type":"rule"},"encoding":{"y":{"datum":0.163,"type":"quantitative","scale":{"type":"log","domain":[0.0087,0.1874],"nice":false},"axis":{"title":null,"orient":"right","values":[0.01414,0.03162,0.07071,0.14142],"grid":true}}}},
   {"transform":[{"filter":"isValid(datum.v)"}],"mark":{"type":"line"},"encoding":{"x":{"field":"m","type":"ordinal","sort":["May","Jun","Jul","Aug","Sep","Oct","Nov"],"scale":{"domain":["May","Jun","Jul","Aug","Sep","Oct","Nov"]},"axis":{"title":null,"grid":true}},"y":{"aggregate":"mean","field":"v","type":"quantitative","scale":{"type":"log","domain":[0.0087,0.1874],"nice":false},"axis":{"title":null,"orient":"left","values":[0.01,0.02,0.05,0.1],"grid":true}}}},
   {"transform":[{"filter":"isValid(datum.v)"}],"mark":{"type":"point"},"encoding":{"x":{"field":"m","type":"ordinal","sort":["May","Jun","Jul","Aug","Sep","Oct","Nov"],"scale":{"domain":["May","Jun","Jul","Aug","Sep","Oct","Nov"]},"axis":{"title":null,"grid":true}},"y":{"field":"v","type":"quantitative","scale":{"type":"log","domain":[0.0087,0.1874],"nice":false},"axis":null},
     "shape":{"field":"k","type":"nominal","scale":{"domain":["Value","MDL"],"range":["circle","triangle-up"]},"legend":{"title":null,"orient":"none","legendX":308,"legendY":-38,"direction":"horizontal","symbolFillColor":"transparent"}},
     "fill":{"field":"g","type":"nominal","scale":{"domain":["Control","Impact"],"range":["transparent","#000000"]},"legend":{"title":null,"orient":"none","legendX":571,"legendY":-38,"direction":"horizontal"}},
     "size":{"field":"k","type":"nominal","scale":{"domain":["Value","MDL"],"range":[65,130]},"legend":{"title":null,"orient":"none","legendX":308,"legendY":-38,"direction":"horizontal","symbolFillColor":"transparent"}}}}
  ]}}
]},
{"spacing":0,"vconcat":[
 {"width":110.9,"height":49,"view":{"fill":"#D9D9D9","stroke":null},"data":{"values":[{"t":"2019"}]},"mark":{"type":"text","fontSize":24,"color":"#1A1A1A"},"encoding":{"text":{"field":"t","type":"nominal"}}},
 {"data":{"name":"d"},"transform":[{"filter":"datum.yr==2019"}],"facet":{"row":{"field":"s","sort":["INUG","PDL","WTS","MAM","A20","A76","DS1","NEM"],"header":null}},"spacing":10.3,"bounds":"flush","resolve":{"axis":{"y":"independent"}},
  "spec":{"width":110.9,"height":157,"resolve":{"axis":{"y":"independent"}},"layer":[
   {"transform":[{"window":[{"op":"row_number","as":"rn"}],"groupby":["s"]},{"filter":"datum.rn==1"}],"mark":{"type":"rule"},"encoding":{"y":{"datum":0.163,"type":"quantitative","scale":{"type":"log","domain":[0.0087,0.1874],"nice":false},"axis":{"title":null,"orient":"right","values":[0.01414,0.03162,0.07071,0.14142],"grid":true}}}},
   {"transform":[{"filter":"isValid(datum.v)"}],"mark":{"type":"line"},"encoding":{"x":{"field":"m","type":"ordinal","sort":["Mar","Apr","May","Jun","Jul","Aug","Sep"],"scale":{"domain":["Mar","Apr","May","Jun","Jul","Aug","Sep"]},"axis":{"title":null,"grid":true}},"y":{"aggregate":"mean","field":"v","type":"quantitative","scale":{"type":"log","domain":[0.0087,0.1874],"nice":false},"axis":{"title":null,"orient":"left","values":[0.01,0.02,0.05,0.1],"grid":true}}}},
   {"transform":[{"filter":"isValid(datum.v)"}],"mark":{"type":"point"},"encoding":{"x":{"field":"m","type":"ordinal","sort":["Mar","Apr","May","Jun","Jul","Aug","Sep"],"scale":{"domain":["Mar","Apr","May","Jun","Jul","Aug","Sep"]},"axis":{"title":null,"grid":true}},"y":{"field":"v","type":"quantitative","scale":{"type":"log","domain":[0.0087,0.1874],"nice":false},"axis":null},
     "shape":{"field":"k","type":"nominal","scale":{"domain":["Value","MDL"],"range":["circle","triangle-up"]},"legend":{"title":null,"orient":"none","legendX":308,"legendY":-38,"direction":"horizontal","symbolFillColor":"transparent"}},
     "fill":{"field":"g","type":"nominal","scale":{"domain":["Control","Impact"],"range":["transparent","#000000"]},"legend":{"title":null,"orient":"none","legendX":571,"legendY":-38,"direction":"horizontal"}},
     "size":{"field":"k","type":"nominal","scale":{"domain":["Value","MDL"],"range":[65,130]},"legend":{"title":null,"orient":"none","legendX":308,"legendY":-38,"direction":"horizontal","symbolFillColor":"transparent"}}}}
  ]}}
]},
{"spacing":0,"vconcat":[
 {"width":110.9,"height":49,"view":{"fill":"#D9D9D9","stroke":null},"data":{"values":[{"t":"2020"}]},"mark":{"type":"text","fontSize":24,"color":"#1A1A1A"},"encoding":{"text":{"field":"t","type":"nominal"}}},
 {"data":{"name":"d"},"transform":[{"filter":"datum.yr==2020"}],"facet":{"row":{"field":"s","sort":["INUG","PDL","WTS","MAM","A20","A76","DS1","NEM"],"header":null}},"spacing":10.3,"bounds":"flush","resolve":{"axis":{"y":"independent"}},
  "spec":{"width":110.9,"height":157,"resolve":{"axis":{"y":"independent"}},"layer":[
   {"transform":[{"window":[{"op":"row_number","as":"rn"}],"groupby":["s"]},{"filter":"datum.rn==1"}],"mark":{"type":"rule"},"encoding":{"y":{"datum":0.163,"type":"quantitative","scale":{"type":"log","domain":[0.0087,0.1874],"nice":false},"axis":{"title":null,"orient":"right","values":[0.01414,0.03162,0.07071,0.14142],"grid":true}}}},
   {"transform":[{"filter":"isValid(datum.v)"}],"mark":{"type":"line"},"encoding":{"x":{"field":"m","type":"ordinal","sort":["Mar","Apr","May","Jun","Jul","Aug","Sep"],"scale":{"domain":["Mar","Apr","May","Jun","Jul","Aug","Sep"]},"axis":{"title":null,"grid":true}},"y":{"aggregate":"mean","field":"v","type":"quantitative","scale":{"type":"log","domain":[0.0087,0.1874],"nice":false},"axis":{"title":null,"orient":"left","values":[0.01,0.02,0.05,0.1],"grid":true}}}},
   {"transform":[{"filter":"isValid(datum.v)"}],"mark":{"type":"point"},"encoding":{"x":{"field":"m","type":"ordinal","sort":["Mar","Apr","May","Jun","Jul","Aug","Sep"],"scale":{"domain":["Mar","Apr","May","Jun","Jul","Aug","Sep"]},"axis":{"title":null,"grid":true}},"y":{"field":"v","type":"quantitative","scale":{"type":"log","domain":[0.0087,0.1874],"nice":false},"axis":null},
     "shape":{"field":"k","type":"nominal","scale":{"domain":["Value","MDL"],"range":["circle","triangle-up"]},"legend":{"title":null,"orient":"none","legendX":308,"legendY":-38,"direction":"horizontal","symbolFillColor":"transparent"}},
     "fill":{"field":"g","type":"nominal","scale":{"domain":["Control","Impact"],"range":["transparent","#000000"]},"legend":{"title":null,"orient":"none","legendX":571,"legendY":-38,"direction":"horizontal"}},
     "size":{"field":"k","type":"nominal","scale":{"domain":["Value","MDL"],"range":[65,130]},"legend":{"title":null,"orient":"none","legendX":308,"legendY":-38,"direction":"horizontal","symbolFillColor":"transparent"}}}}
  ]}}
]},
{"spacing":0,"vconcat":[
 {"width":110.9,"height":49,"view":{"fill":"#D9D9D9","stroke":null},"data":{"values":[{"t":"2021"}]},"mark":{"type":"text","fontSize":24,"color":"#1A1A1A"},"encoding":{"text":{"field":"t","type":"nominal"}}},
 {"data":{"name":"d"},"transform":[{"filter":"datum.yr==2021"}],"facet":{"row":{"field":"s","sort":["INUG","PDL","WTS","MAM","A20","A76","DS1","NEM"],"header":null}},"spacing":10.3,"bounds":"flush","resolve":{"axis":{"y":"independent"}},
  "spec":{"width":110.9,"height":157,"resolve":{"axis":{"y":"independent"}},"layer":[
   {"transform":[{"window":[{"op":"row_number","as":"rn"}],"groupby":["s"]},{"filter":"datum.rn==1"}],"mark":{"type":"rule"},"encoding":{"y":{"datum":0.163,"type":"quantitative","scale":{"type":"log","domain":[0.0087,0.1874],"nice":false},"axis":{"title":null,"orient":"right","values":[0.01414,0.03162,0.07071,0.14142],"grid":true}}}},
   {"transform":[{"filter":"isValid(datum.v)"}],"mark":{"type":"line"},"encoding":{"x":{"field":"m","type":"ordinal","sort":["Mar","Apr","May","Jun","Jul","Aug","Sep"],"scale":{"domain":["Mar","Apr","May","Jun","Jul","Aug","Sep"]},"axis":{"title":null,"grid":true}},"y":{"aggregate":"mean","field":"v","type":"quantitative","scale":{"type":"log","domain":[0.0087,0.1874],"nice":false},"axis":{"title":null,"orient":"left","values":[0.01,0.02,0.05,0.1],"grid":true}}}},
   {"transform":[{"filter":"isValid(datum.v)"}],"mark":{"type":"point"},"encoding":{"x":{"field":"m","type":"ordinal","sort":["Mar","Apr","May","Jun","Jul","Aug","Sep"],"scale":{"domain":["Mar","Apr","May","Jun","Jul","Aug","Sep"]},"axis":{"title":null,"grid":true}},"y":{"field":"v","type":"quantitative","scale":{"type":"log","domain":[0.0087,0.1874],"nice":false},"axis":null},
     "shape":{"field":"k","type":"nominal","scale":{"domain":["Value","MDL"],"range":["circle","triangle-up"]},"legend":{"title":null,"orient":"none","legendX":308,"legendY":-38,"direction":"horizontal","symbolFillColor":"transparent"}},
     "fill":{"field":"g","type":"nominal","scale":{"domain":["Control","Impact"],"range":["transparent","#000000"]},"legend":{"title":null,"orient":"none","legendX":571,"legendY":-38,"direction":"horizontal"}},
     "size":{"field":"k","type":"nominal","scale":{"domain":["Value","MDL"],"range":[65,130]},"legend":{"title":null,"orient":"none","legendX":308,"legendY":-38,"direction":"horizontal","symbolFillColor":"transparent"}}}}
  ]}}
]},
{"spacing":0,"vconcat":[
 {"width":110.9,"height":49,"view":{"fill":"#D9D9D9","stroke":null},"data":{"values":[{"t":"2022"}]},"mark":{"type":"text","fontSize":24,"color":"#1A1A1A"},"encoding":{"text":{"field":"t","type":"nominal"}}},
 {"data":{"name":"d"},"transform":[{"filter":"datum.yr==2022"}],"facet":{"row":{"field":"s","sort":["INUG","PDL","WTS","MAM","A20","A76","DS1","NEM"],"header":null}},"spacing":10.3,"bounds":"flush","resolve":{"axis":{"y":"independent"}},
  "spec":{"width":110.9,"height":157,"resolve":{"axis":{"y":"independent"}},"layer":[
   {"transform":[{"window":[{"op":"row_number","as":"rn"}],"groupby":["s"]},{"filter":"datum.rn==1"}],"mark":{"type":"rule"},"encoding":{"y":{"datum":0.163,"type":"quantitative","scale":{"type":"log","domain":[0.0087,0.1874],"nice":false},"axis":{"title":null,"orient":"right","values":[0.01414,0.03162,0.07071,0.14142],"grid":true}}}},
   {"transform":[{"filter":"isValid(datum.v)"}],"mark":{"type":"line"},"encoding":{"x":{"field":"m","type":"ordinal","sort":["Mar","Apr","May","Jun","Jul","Aug","Sep"],"scale":{"domain":["Mar","Apr","May","Jun","Jul","Aug","Sep"]},"axis":{"title":null,"grid":true}},"y":{"aggregate":"mean","field":"v","type":"quantitative","scale":{"type":"log","domain":[0.0087,0.1874],"nice":false},"axis":{"title":null,"orient":"left","values":[0.01,0.02,0.05,0.1],"grid":true}}}},
   {"transform":[{"filter":"isValid(datum.v)"}],"mark":{"type":"point"},"encoding":{"x":{"field":"m","type":"ordinal","sort":["Mar","Apr","May","Jun","Jul","Aug","Sep"],"scale":{"domain":["Mar","Apr","May","Jun","Jul","Aug","Sep"]},"axis":{"title":null,"grid":true}},"y":{"field":"v","type":"quantitative","scale":{"type":"log","domain":[0.0087,0.1874],"nice":false},"axis":null},
     "shape":{"field":"k","type":"nominal","scale":{"domain":["Value","MDL"],"range":["circle","triangle-up"]},"legend":{"title":null,"orient":"none","legendX":308,"legendY":-38,"direction":"horizontal","symbolFillColor":"transparent"}},
     "fill":{"field":"g","type":"nominal","scale":{"domain":["Control","Impact"],"range":["transparent","#000000"]},"legend":{"title":null,"orient":"none","legendX":571,"legendY":-38,"direction":"horizontal"}},
     "size":{"field":"k","type":"nominal","scale":{"domain":["Value","MDL"],"range":[65,130]},"legend":{"title":null,"orient":"none","legendX":308,"legendY":-38,"direction":"horizontal","symbolFillColor":"transparent"}}}}
  ]}}
]}
]},
{"spacing":0,"vconcat":[
 {"width":48,"height":49,"view":{"fill":"#FFFFFF","stroke":null},"data":{"values":[{"t":""}]},"mark":{"type":"text"},"encoding":{"text":{"field":"t","type":"nominal"}}},
 {"data":{"name":"st"},"facet":{"row":{"field":"s","sort":["INUG","PDL","WTS","MAM","A20","A76","DS1","NEM"],"header":null}},"spacing":10.3,"bounds":"flush",
  "spec":{"width":48,"height":157,"view":{"fill":"#D9D9D9","stroke":null},"mark":{"type":"text","angle":90,"fontSize":24,"color":"#1A1A1A"},"encoding":{"text":{"field":"s","type":"nominal"}}}}
]}
]
}
